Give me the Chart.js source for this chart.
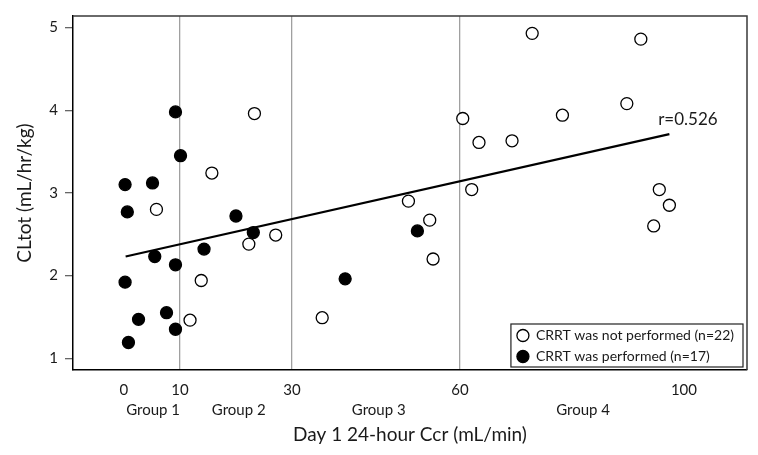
<!DOCTYPE html>
<html lang="en">
<head>
<meta charset="UTF-8">
<title>CLtot vs Day 1 24-hour Ccr</title>
<script src="https://cdn.jsdelivr.net/npm/chart.js"></script>
<style>
  body { margin: 0; background: #fff; }
  .wrap { width: 758px; height: 455px; position: relative; }
</style>
</head>
<body>
<div class="wrap"><canvas id="chart"></canvas></div>
<script>
// CRRT was not performed (open circles)
const notPerfX = [23.3, 15.7, 5.8, 27.1, 22.3, 13.8, 11.8, 35.4, 50.8, 54.6, 55.2, 60.5, 63.4, 69.3, 62.1, 72.9, 92.3, 89.8, 78.3, 95.6, 97.4, 94.6];
const notPerfY = [3.96, 3.24, 2.80, 2.49, 2.38, 1.94, 1.46, 1.49, 2.90, 2.67, 2.20, 3.90, 3.61, 3.63, 3.04, 4.93, 4.86, 4.08, 3.94, 3.04, 2.85, 2.60];

// CRRT was performed (filled circles)
const perfX = [9.2, 10.1, 0.2, 5.1, 0.6, 20.0, 23.1, 14.3, 5.5, 9.2, 0.2, 7.6, 2.6, 9.2, 0.8, 52.4, 39.5];
const perfY = [3.98, 3.45, 3.10, 3.12, 2.77, 2.72, 2.52, 2.32, 2.23, 2.13, 1.92, 1.55, 1.47, 1.35, 1.19, 2.54, 1.96];

// regression line ends
const fitX = [0.3, 97.4];
const fitY = [2.23, 3.71];
const rLabel = 'r=0.526';
const rAt = [95.4, 3.82];

const xTicks = [0, 10, 30, 60, 100];
const yTicks = [1, 2, 3, 4, 5];
const cutoffs = [10, 30, 60];
const groupNames = ['Group 1', 'Group 2', 'Group 3', 'Group 4'];
const groupCenters = [5.2, 20.5, 45.5, 82];

const FONT = 'Lato, "Open Sans", sans-serif';
const TXT = '#1a1a1a';

const toPts = (xs, ys) => xs.map((x, i) => ({x: x, y: ys[i]}));

// frame, r label, group labels and boxed legend
const extras = {
    id: 'extras',
    afterDraw(chart) {
        const {ctx, chartArea: a, scales: {x, y}} = chart;
        ctx.save();

        ctx.strokeStyle = '#3a3a3a';
        ctx.lineWidth = 1.5;
        ctx.beginPath();
        ctx.moveTo(a.left, a.top);
        ctx.lineTo(a.right, a.top);
        ctx.lineTo(a.right, a.bottom);
        ctx.stroke();

        ctx.fillStyle = TXT;
        ctx.font = '17px ' + FONT;
        ctx.textAlign = 'left';
        ctx.textBaseline = 'alphabetic';
        ctx.fillText(rLabel, x.getPixelForValue(rAt[0]), y.getPixelForValue(rAt[1]));

        ctx.font = '15px ' + FONT;
        ctx.textAlign = 'center';
        ctx.textBaseline = 'middle';
        groupNames.forEach((g, i) => {
            ctx.fillText(g, x.getPixelForValue(groupCenters[i]), a.bottom + 40);
        });

        // legend
        const sets = chart.data.datasets.filter(d => d.label);
        ctx.font = '14px ' + FONT;
        const textW = Math.max(...sets.map(d => ctx.measureText(d.label).width));
        const right = a.right - 4, bottom = a.bottom - 3;
        const boxW = textW + 34, rowH = 21, boxH = rowH * sets.length + 1;
        const left = right - boxW, top = bottom - boxH;
        ctx.fillStyle = '#fff';
        ctx.fillRect(left, top, boxW, boxH);
        ctx.strokeStyle = '#222';
        ctx.lineWidth = 1.2;
        ctx.strokeRect(left, top, boxW, boxH);
        sets.forEach((d, i) => {
            const cy = top + rowH / 2 + 1 + i * rowH;
            ctx.beginPath();
            ctx.arc(left + 12, cy, 6, 0, Math.PI * 2);
            ctx.fillStyle = d.backgroundColor;
            ctx.fill();
            ctx.strokeStyle = d.borderColor;
            ctx.lineWidth = d.borderWidth;
            ctx.stroke();
            ctx.fillStyle = TXT;
            ctx.textAlign = 'left';
            ctx.fillText(d.label, left + 25, cy);
        });
        ctx.restore();
    }
};

new Chart(document.getElementById('chart'), {
    type: 'scatter',
    data: {
        datasets: [
            {
                label: 'CRRT was not performed (n=22)',
                data: toPts(notPerfX, notPerfY),
                backgroundColor: '#ffffff',
                borderColor: '#000000',
                borderWidth: 1.3,
                pointRadius: 6,
                order: 1
            },
            {
                label: 'CRRT was performed (n=17)',
                data: toPts(perfX, perfY),
                backgroundColor: '#000000',
                borderColor: '#000000',
                borderWidth: 1.3,
                pointRadius: 6,
                order: 2
            },
            {
                type: 'line',
                data: toPts(fitX, fitY),
                borderColor: '#000000',
                borderWidth: 2.2,
                pointRadius: 0,
                fill: false,
                order: 3
            }
        ]
    },
    options: {
        responsive: true,
        maintainAspectRatio: false,
        animation: false,
        layout: { padding: { top: 11, right: 11, left: 0, bottom: 0 } },
        plugins: { legend: { display: false }, tooltip: { enabled: false } },
        scales: {
            x: {
                type: 'linear',
                min: -9.1,
                max: 111.26,
                afterBuildTicks: s => { s.ticks = xTicks.map(v => ({value: v})); },
                afterFit: s => { s.height = 85; },
                grid: {
                    drawTicks: false,
                    lineWidth: 1.3,
                    color: c => cutoffs.includes(c.tick && c.tick.value) ? '#a0a0a0' : 'rgba(0,0,0,0)'
                },
                border: { display: true, color: '#000', width: 1.5 },
                ticks: { color: TXT, font: { family: FONT, size: 15 }, padding: 11, maxRotation: 0, autoSkip: false },
                title: {
                    display: true,
                    text: 'Day 1 24-hour Ccr (mL/min)',
                    color: TXT,
                    font: { family: FONT, size: 19 },
                    padding: { top: 0, bottom: 9 }
                }
            },
            y: {
                type: 'linear',
                min: 0.857,
                max: 5.14,
                afterBuildTicks: s => { s.ticks = yTicks.map(v => ({value: v})); },
                afterFit: s => { s.width = 73; },
                grid: { drawOnChartArea: false, drawTicks: true, tickLength: 8, color: '#666', lineWidth: 1.3 },
                border: { display: true, color: '#000', width: 1.5 },
                ticks: { color: TXT, font: { family: FONT, size: 15 }, padding: 7 },
                title: {
                    display: true,
                    text: 'CLtot (mL/hr/kg)',
                    color: TXT,
                    font: { family: FONT, size: 19 },
                    padding: { top: 13, bottom: 0 }
                }
            }
        }
    },
    plugins: [extras]
});
</script>
</body>
</html>
